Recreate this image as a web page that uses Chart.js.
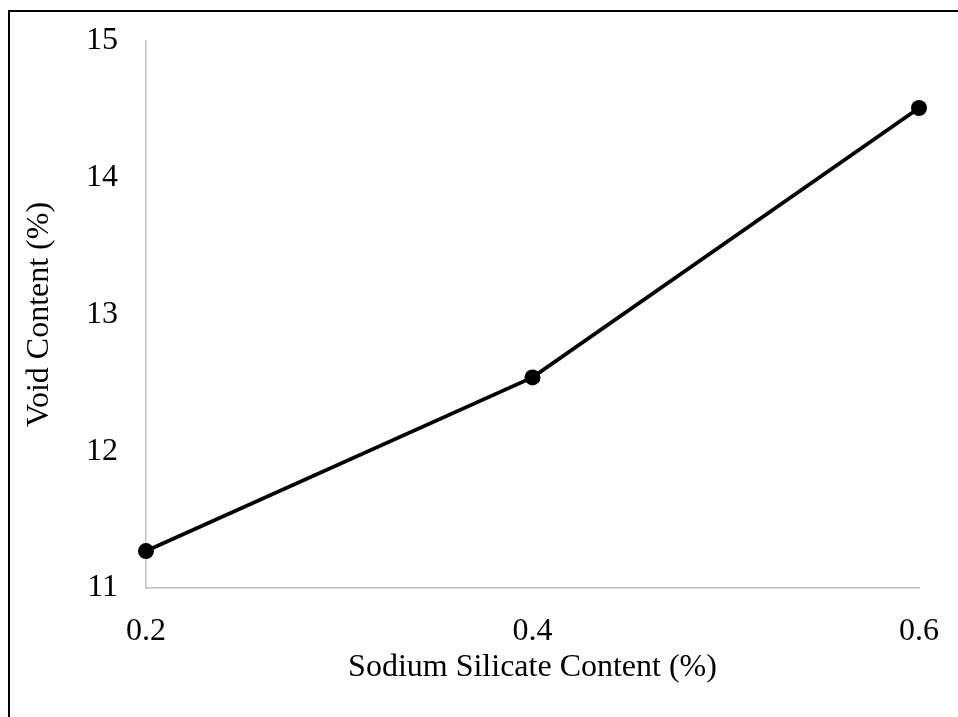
<!DOCTYPE html>
<html>
<head>
<meta charset="utf-8">
<script src="https://cdn.jsdelivr.net/npm/chart.js@4/dist/chart.umd.min.js"></script>
<style>
    html, body { margin: 0; padding: 0; background: #fff; overflow: hidden; }
    #frame {
        position: absolute;
        left: 8px;
        top: 10px;
        border-left: 2px solid #000;
        border-top: 2px solid #000;
    }
    #myChart { display: block; }
</style>
</head>
<body>
<div id="frame"><canvas id="myChart" width="948" height="705"></canvas></div>
<script>
// Values
var silicateContent = ['0.2', '0.4', '0.6'];
var voidContent = [11.27, 12.54, 14.51];
var yTicks = [11, 12, 13, 14, 15];

var fontFamily = '"Liberation Serif", "Times New Roman", serif';
var axisGrey = '#bfbfbf';

function createChart(canvasId) {
    let ctx = document.getElementById(canvasId).getContext('2d');
    let chart = new Chart(ctx, {
        type: 'line',

        data: {
            labels: silicateContent,
            datasets: [{
                data: voidContent,
                borderColor: '#000',
                backgroundColor: '#000',
                borderWidth: 3.8,
                pointRadius: 8,
                pointHoverRadius: 8,
                pointBorderWidth: 0,
                tension: 0
            }]
        },

        options: {
            animation: false,
            responsive: false,
            layout: { padding: 0 },
            plugins: { legend: { display: false }, tooltip: { enabled: false } },
            scales: {
                x: {
                    type: 'category',
                    offset: false,
                    grid: { display: false, drawTicks: false, tickLength: 0 },
                    border: { display: true, color: axisGrey, width: 1.5 },
                    ticks: { color: '#000', padding: 24, maxRotation: 0, font: { family: fontFamily, size: 32 } },
                    title: {
                        display: true,
                        text: 'Sodium Silicate Content (%)',
                        color: '#000',
                        font: { family: fontFamily, size: 32 },
                        padding: { top: 0, bottom: 30 }
                    },
                    afterFit: function (scale) {
                        // fixed plot box, so the axes sit where the reference has them
                        scale.height = 129;
                        scale.paddingLeft = 0;
                        scale.paddingRight = 39;
                    }
                },
                y: {
                    min: 11,
                    max: 15,
                    afterBuildTicks: function (scale) {
                        scale.ticks = yTicks.map(function (v) { return { value: v }; });
                    },
                    grid: { display: false, drawTicks: false, tickLength: 0 },
                    border: { display: true, color: axisGrey, width: 1.5 },
                    ticks: { color: '#000', padding: 28, font: { family: fontFamily, size: 32 } },
                    title: {
                        display: true,
                        text: 'Void Content (%)',
                        color: '#000',
                        font: { family: fontFamily, size: 32 },
                        padding: { top: 10, bottom: 0 }
                    },
                    afterFit: function (scale) {
                        scale.width = 136;
                        scale.paddingTop = 29;
                        scale.paddingBottom = 0;
                    }
                }
            }
        }
    });
    return chart;
}

createChart('myChart');
</script>
</body>
</html>
